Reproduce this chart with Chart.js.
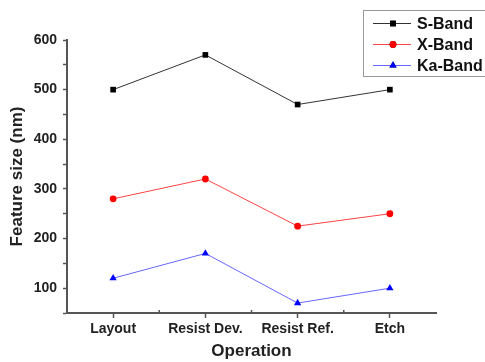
<!DOCTYPE html>
<html>
<head>
<meta charset="utf-8">
<script src="https://cdn.jsdelivr.net/npm/chart.js@4"></script>
<style>
  html, body { margin: 0; padding: 0; background: #fff; }
  #wrap { width: 485px; height: 362px; }
</style>
</head>
<body>
<div id="wrap"><canvas id="featureChart" width="485" height="362"></canvas></div>
<script>
const operations = ["Layout", "Resist Dev.", "Resist Ref.", "Etch"];
const sBand = [500, 570, 470, 500];
const xBand = [280, 320, 225, 250];
const kaBand = [120, 170, 70, 100];
const yTicks = [100, 200, 300, 400, 500, 600];

const FONT = "'Liberation Sans', Arial, sans-serif";
const AXIS = "#555";

// minor ticks between categories + box legend drawn on the canvas
const extras = {
    id: "extras",
    afterDraw(chart) {
        const ctx = chart.ctx;
        const x = chart.scales.x;
        const area = chart.chartArea;
        ctx.save();
        ctx.strokeStyle = AXIS;
        ctx.lineWidth = 1.5;
        for (let i = 0; i < operations.length - 1; i++) {
            const px = (x.getPixelForValue(i) + x.getPixelForValue(i + 1)) / 2;
            ctx.beginPath();
            ctx.moveTo(px, area.bottom);
            ctx.lineTo(px, area.bottom - 3);
            ctx.stroke();
        }

        // legend
        const left = 363, top = 10, rowH = 21;
        ctx.strokeStyle = "#999";
        ctx.lineWidth = 1;
        ctx.strokeRect(left + 0.5, top + 0.5, 140, 66);
        ctx.font = "bold 16px " + FONT;
        ctx.textBaseline = "middle";
        chart.data.datasets.forEach((ds, i) => {
            const cy = top + 13.5 + i * rowH;
            ctx.strokeStyle = ds.borderColor;
            ctx.lineWidth = 1;
            ctx.beginPath();
            ctx.moveTo(left + 10, cy);
            ctx.lineTo(left + 48, cy);
            ctx.stroke();
            Chart.helpers.drawPoint(ctx, {
                pointStyle: ds.pointStyle,
                radius: ds.pointRadius,
                borderWidth: 0,
            }, left + 30, cy);
            ctx.fillStyle = ds.pointBackgroundColor;
            ctx.fill();
            ctx.fillStyle = "#111";
            ctx.fillText(ds.label, left + 54, cy + 1);
        });
        ctx.restore();
    },
};

function series(label, data, color, lineColor, style, radius) {
    return {
        label: label,
        data: data,
        borderColor: lineColor,
        borderWidth: 1,
        pointStyle: style,
        pointRadius: radius,
        pointBackgroundColor: color,
        pointBorderColor: color,
        pointBorderWidth: 0,
        tension: 0,
    };
}

new Chart(document.getElementById("featureChart"), {
    type: "line",
    data: {
        labels: operations,
        datasets: [
            series("S-Band", sBand, "#000", "#333", "rect", 4),
            series("X-Band", xBand, "#f00", "#f44", "circle", 3.4),
            series("Ka-Band", kaBand, "#00f", "#66f", "triangle", 4.2),
        ],
    },
    options: {
        responsive: false,
        animation: false,
        layout: { padding: { top: 40, right: 49, left: 0, bottom: 0 } },
        plugins: {
            legend: { display: false },
            tooltip: { enabled: false },
        },
        scales: {
            x: {
                offset: true,
                border: { color: AXIS, width: 2 },
                grid: { drawOnChartArea: false, tickLength: 5, tickColor: AXIS, tickWidth: 1.5 },
                ticks: {
                    color: "#222",
                    font: { family: FONT, size: 14, weight: "bold" },
                    padding: 3,
                    maxRotation: 0,
                },
                title: {
                    display: true,
                    text: "Operation",
                    color: "#222",
                    font: { family: FONT, size: 17, weight: "bold" },
                    padding: { top: 9, bottom: 0 },
                },
                afterFit(scale) { scale.height = 49; },
            },
            y: {
                min: 50,
                max: 600,
                border: { color: AXIS, width: 2 },
                grid: { drawOnChartArea: false, tickLength: 4, tickColor: AXIS, tickWidth: 1.5 },
                afterBuildTicks(scale) {
                    const t = [];
                    for (let v = 50; v <= 600; v += 50) t.push({ value: v });
                    scale.ticks = t;
                },
                ticks: {
                    color: "#222",
                    font: { family: FONT, size: 14, weight: "bold" },
                    padding: 6,
                    callback: (v) => (yTicks.includes(v) ? v : ""),
                },
                title: {
                    display: true,
                    text: "Feature size (nm)",
                    color: "#222",
                    font: { family: FONT, size: 17, weight: "bold" },
                    padding: { top: 7, bottom: 0 },
                },
                afterFit(scale) { scale.width = 67; },
            },
        },
    },
    plugins: [extras],
});
</script>
</body>
</html>
